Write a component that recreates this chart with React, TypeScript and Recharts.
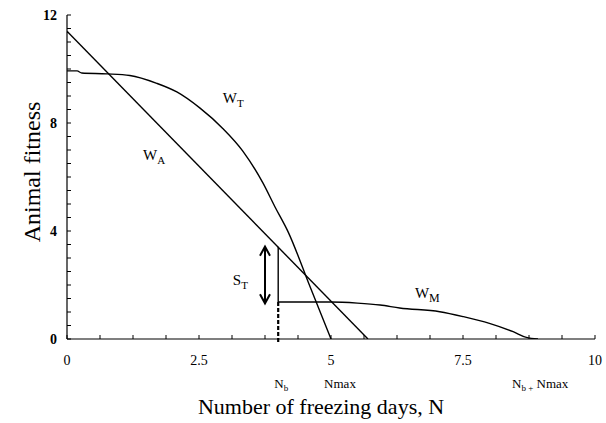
import React from 'react';
import { LineChart, Line, XAxis, YAxis, ReferenceLine, ReferenceDot } from 'recharts';

// ---- data ----
const xMajorTicks = [0, 2.5, 5, 7.5, 10];
const xAllTicks = [0, 0.625, 1.25, 1.875, 2.5, 3.125, 3.75, 4.375, 5, 5.625, 6.25, 6.875, 7.5, 8.125, 8.75, 9.375, 10];
const yMajorTicks = [0, 4, 8, 12];
const yAllTicks = [0, 0.5, 1, 1.5, 2, 2.5, 3, 3.5, 4, 4.5, 5, 5.5, 6, 6.5, 7, 7.5, 8, 8.5, 9, 9.5, 10, 10.5, 11, 11.5, 12];

const wA = [
  { n: 0, w: 11.4 },
  { n: 5.7, w: 0 },
];

const wT = [
  { n: 0, w: 9.93 },
  { n: 0.19, w: 9.93 },
  { n: 0.28, w: 9.85 },
  { n: 0.76, w: 9.82 },
  { n: 1.19, w: 9.76 },
  { n: 1.7, w: 9.47 },
  { n: 2.08, w: 9.15 },
  { n: 2.52, w: 8.55 },
  { n: 2.95, w: 7.8 },
  { n: 3.33, w: 6.96 },
  { n: 3.71, w: 5.78 },
  { n: 3.94, w: 4.89 },
  { n: 4.19, w: 3.96 },
  { n: 4.6, w: 1.95 },
  { n: 5.0, w: 0 },
];

const wM = [
  { n: 4.0, w: 1.37 },
  { n: 5.0, w: 1.37 },
  { n: 5.5, w: 1.33 },
  { n: 5.93, w: 1.26 },
  { n: 6.3, w: 1.15 },
  { n: 7.06, w: 1.01 },
  { n: 7.5, w: 0.83 },
  { n: 8.0, w: 0.58 },
  { n: 8.45, w: 0.27 },
  { n: 8.7, w: 0.06 },
  { n: 8.92, w: 0 },
];

const Nb = 4.0;
const Nmax = 5.0;
const wAatNb = 3.42;
const wMstart = 1.37;
const stArrowX = 3.75;
const stArrowTop = 3.42;
const stArrowBottom = 1.32;

const curveLabels = [
  { main: 'W', sub: 'T', n: 2.95, w: 8.74, subSize: 11 },
  { main: 'W', sub: 'A', n: 1.44, w: 6.63, subSize: 11 },
  { main: 'W', sub: 'M', n: 6.59, w: 1.52, subSize: 12 },
  { main: 'S', sub: 'T', n: 3.14, w: 2.0, subSize: 11 },
];

const FONT = '"Liberation Serif", "Times New Roman", serif';
const fontStyle = { fontFamily: FONT };

const XTick = (props: any) => {
  const { x, y, payload } = props;
  const v = payload.value;
  const major = xMajorTicks.includes(v);
  return (
    <g>
      <line x1={x} x2={x} y1={y} y2={y - 4} stroke="#000" strokeWidth={1} />
      {major && (
        <text x={x} y={y + 26} textAnchor="middle" style={fontStyle} fontSize={14} fill="#000" stroke="none">
          {v}
        </text>
      )}
    </g>
  );
};

const YTick = (props: any) => {
  const { x, y, payload } = props;
  const v = payload.value;
  const major = yMajorTicks.includes(v);
  return (
    <g>
      <line x1={x} x2={x + 4} y1={y} y2={y} stroke="#000" strokeWidth={1} />
      {major && (
        <text x={x - 10} y={y + 5} textAnchor="end" style={fontStyle} fontSize={14} fontWeight="bold" fill="#000" stroke="none">
          {v}
        </text>
      )}
    </g>
  );
};

const makeCurveLabel = (main: string, sub: string, subSize: number) => (p: any) => (
  <text x={p.cx} y={p.cy} style={fontStyle} fontSize={15} fill="#000" stroke="none">
    {main}
    <tspan fontSize={subSize} dy={4}>{sub}</tspan>
  </text>
);

const ArrowShape = (p: any) => {
  const { x1, y1, x2, y2 } = p;
  const top = Math.min(y1, y2);
  const bot = Math.max(y1, y2);
  const x = x1;
  const hw = 5;
  const hl = 9;
  return (
    <g>
      <line x1={x} x2={x} y1={top + 2} y2={bot - 2} stroke="#000" strokeWidth={2} />
      <polyline points={`${x - hw},${top + hl} ${x},${top} ${x + hw},${top + hl}`} fill="none" stroke="#000" strokeWidth={2} />
      <polyline points={`${x - hw},${bot - hl} ${x},${bot} ${x + hw},${bot - hl}`} fill="none" stroke="#000" strokeWidth={2} />
    </g>
  );
};

const bottomLabel = (kind: string) => (p: any) => {
  if (kind === 'nb') {
    return (
      <text x={p.cx + 3} y={p.cy + 49} textAnchor="middle" style={fontStyle} fontSize={13} fill="#000" stroke="none">
        N<tspan fontSize={9} dy={3}>b</tspan>
      </text>
    );
  }
  if (kind === 'nmax') {
    return (
      <text x={p.cx + 9} y={p.cy + 49} textAnchor="middle" style={fontStyle} fontSize={13} fill="#000" stroke="none">
        Nmax
      </text>
    );
  }
  return (
    <text x={p.cx - 2} y={p.cy + 49} textAnchor="middle" style={fontStyle} fontSize={13} fill="#000" stroke="none">
      N<tspan fontSize={9} dy={3}>b +</tspan>
      <tspan dy={-3}> Nmax</tspan>
    </text>
  );
};

export default function App() {
  return (
    <div style={{ position: 'absolute', left: 0, top: 0, width: 606, height: 423, background: '#fff', fontFamily: FONT }}>
      <LineChart width={606} height={423} margin={{ top: 15, right: 11, left: 66, bottom: 83 }} style={fontStyle}>
        <XAxis
          type="number"
          dataKey="n"
          domain={[0, 10]}
          ticks={xAllTicks}
          interval={0}
          tick={<XTick />}
          tickLine={false}
          tickSize={0}
          tickMargin={0}
          height={1}
          axisLine={{ stroke: '#000', strokeWidth: 1.2 }}
          allowDataOverflow
        />
        <YAxis
          type="number"
          dataKey="w"
          domain={[0, 12]}
          ticks={yAllTicks}
          interval={0}
          tick={<YTick />}
          tickLine={false}
          tickSize={0}
          tickMargin={0}
          width={1}
          axisLine={{ stroke: '#000', strokeWidth: 1.2 }}
          allowDataOverflow
        />
        <Line data={wA} dataKey="w" type="linear" stroke="#000" strokeWidth={1.4} dot={false} isAnimationActive={false} />
        <Line data={wT} dataKey="w" type="monotone" stroke="#000" strokeWidth={1.4} dot={false} isAnimationActive={false} />
        <Line data={wM} dataKey="w" type="monotone" stroke="#000" strokeWidth={1.4} dot={false} isAnimationActive={false} />
        <ReferenceLine
          segment={[{ x: Nb, y: wAatNb }, { x: Nb, y: wMstart }]}
          stroke="#000"
          strokeWidth={1.4}
          ifOverflow="visible"
        />
        <ReferenceLine
          segment={[{ x: Nb, y: wMstart }, { x: Nb, y: -0.15 }]}
          stroke="#000"
          strokeWidth={2.2}
          strokeDasharray="4 2"
          ifOverflow="visible"
        />
        <ReferenceLine
          segment={[{ x: stArrowX, y: stArrowTop }, { x: stArrowX, y: stArrowBottom }]}
          shape={ArrowShape}
          ifOverflow="visible"
        />
        {curveLabels.map((l) => (
          <ReferenceDot
            key={l.main + l.sub}
            x={l.n}
            y={l.w}
            r={0}
            ifOverflow="visible"
            shape={makeCurveLabel(l.main, l.sub, l.subSize)}
          />
        ))}
        <ReferenceDot x={Nb} y={0} r={0} ifOverflow="visible" shape={bottomLabel('nb')} />
        <ReferenceDot x={Nmax} y={0} r={0} ifOverflow="visible" shape={bottomLabel('nmax')} />
        <ReferenceDot x={Nb + Nmax} y={0} r={0} ifOverflow="visible" shape={bottomLabel('sum')} />
      </LineChart>
      <svg width={606} height={423} style={{ position: 'absolute', left: 0, top: 0, pointerEvents: 'none' }}>
        <text x={321} y={414} textAnchor="middle" style={fontStyle} fontSize={22} fill="#000">
          Number of freezing days, N
        </text>
        <text
          x={40}
          y={172}
          transform="rotate(-90, 40, 172)"
          textAnchor="middle"
          style={fontStyle}
          fontSize={24}
          fill="#000"
        >
          Animal fitness
        </text>
      </svg>
    </div>
  );
}
